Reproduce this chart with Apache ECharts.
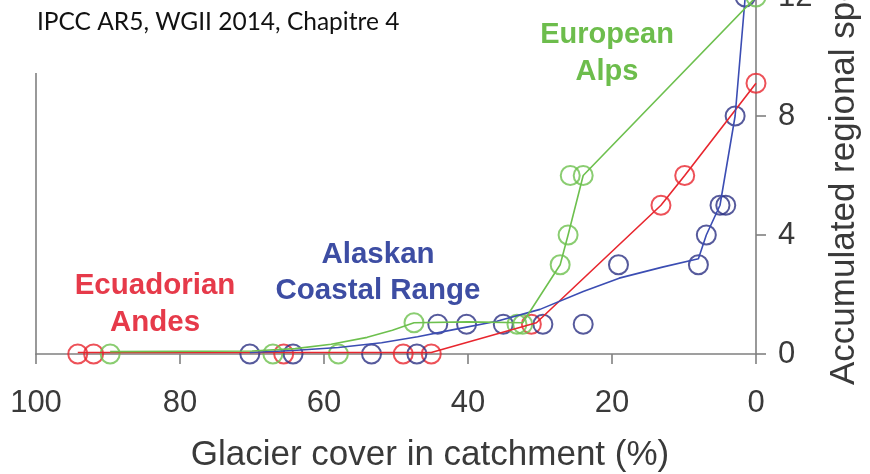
<!DOCTYPE html>
<html>
<head>
<meta charset="utf-8">
<script src="https://cdn.jsdelivr.net/npm/echarts@6/dist/echarts.min.js"></script>
<style>
  html, body { margin: 0; padding: 0; background: #ffffff; }
  #chart { width: 870px; height: 474px; }
</style>
</head>
<body>
<div id="chart"></div>
<script>
// Axis ranges (glacier cover runs from 100 % down to 0 %)
const glacierCoverTicks = [100, 80, 60, 40, 20, 0];
const speciesTicks = [0, 4, 8, 12];

// Observed sites: [glacier cover (%), accumulated regional species loss]
const andesSites = [
  [94.2, 0], [92.0, 0], [65.6, 0], [49.0, 0], [45.1, 0],
  [31.2, 1.0], [13.2, 5.0], [9.9, 6.0], [0, 9.1]
];
const alaskaSites = [
  [70.3, 0], [64.3, 0], [53.4, 0], [47.1, 0],
  [44.2, 1.0], [40.2, 1.0], [35.1, 1.0], [29.6, 1.0], [24.0, 1.0],
  [19.1, 3.0], [8.0, 3.0], [6.9, 4.0], [5.0, 5.0], [4.2, 5.0],
  [2.9, 8.0], [1.5, 12.0]
];
const alpsSites = [
  [89.7, 0], [67.1, 0], [58.0, 0], [47.5, 1.05], [33.2, 1.0], [32.4, 1.0],
  [27.2, 3.0], [26.1, 4.0], [25.8, 6.0], [24.0, 6.0], [0, 12.0]
];

// Fitted curves through each region's sites
const andesFit = [
  [94.2, 0.05], [45.1, 0.05], [30.5, 1.05], [13.2, 5.0], [9.9, 6.0], [0, 9.1]
];
const alaskaFit = [
  [70.3, 0.05], [64.3, 0.12], [58, 0.22], [52, 0.38], [47, 0.58], [42, 0.82],
  [36, 1.1], [30, 1.5], [24, 2.1], [19, 2.55], [13, 2.92], [8, 3.2],
  [6.9, 4.0], [5.0, 5.0], [2.9, 8.0], [1.5, 12.0]
];
const alpsFit = [
  [89.7, 0.08], [70, 0.1], [64, 0.18], [59, 0.33], [54, 0.56], [50.5, 0.8],
  [47.5, 1.05], [40, 1.08], [32.4, 1.05], [27.2, 3.0], [26.1, 4.0], [24.0, 6.0], [0, 12.0]
];

const RED = '#e8262e', NAVY = '#2c3183', BLUE = '#3b4db3', GREEN = '#6dc04e';
const AXIS_GREY = '#808080', TEXT = '#3a3a3a';
const FONT = '"Liberation Sans", Arial, sans-serif';

function sites(name, data, color) {
  return {
    name, type: 'scatter', data, clip: false,
    symbol: 'circle', symbolSize: 19,
    itemStyle: { color: 'rgba(0,0,0,0)', borderColor: color, borderWidth: 2 },
    z: 2
  };
}
function fit(name, data, color) {
  return {
    name, type: 'line', data, clip: false,
    showSymbol: false, symbol: 'none',
    lineStyle: { color, width: 1.6 },
    z: 3
  };
}

const chart = echarts.init(document.getElementById('chart'), null, { renderer: 'canvas' });
chart.setOption({
  animation: false,
  backgroundColor: '#ffffff',
  textStyle: { fontFamily: FONT },
  grid: { left: 36, right: 114, top: -3, bottom: 120, containLabel: false, outerBoundsMode: 'none' },
  xAxis: {
    type: 'value', inverse: true,
    min: glacierCoverTicks[glacierCoverTicks.length - 1],
    max: glacierCoverTicks[0],
    interval: glacierCoverTicks[0] - glacierCoverTicks[1],
    axisLine: { onZero: false, lineStyle: { color: AXIS_GREY, width: 1.6 } },
    axisTick: { show: true, length: 10, lineStyle: { color: AXIS_GREY, width: 1.6 } },
    axisLabel: { fontSize: 31, color: TEXT, margin: 34, fontFamily: FONT },
    splitLine: { show: false },
    name: 'Glacier cover in catchment (%)',
    nameLocation: 'middle', nameGap: 84,
    nameTextStyle: { fontSize: 35, color: TEXT, fontFamily: FONT, padding: [0, 0, 0, 68] }
  },
  yAxis: [{
    type: 'value', position: 'right',
    min: speciesTicks[0], max: speciesTicks[speciesTicks.length - 1],
    interval: speciesTicks[1] - speciesTicks[0],
    axisLine: { show: true, lineStyle: { color: AXIS_GREY, width: 1.6 } },
    axisTick: { show: true, length: 10, lineStyle: { color: AXIS_GREY, width: 1.6 } },
    axisLabel: { fontSize: 31, color: TEXT, margin: 22, fontFamily: FONT },
    splitLine: { show: false },
    name: 'Accumulated regional species loss',
    nameLocation: 'middle', nameGap: 71, nameRotate: 90,
    nameTextStyle: { fontSize: 35, color: TEXT, fontFamily: FONT, padding: [0, 0, 0, 118] }
  }, {
    type: 'value', position: 'left',
    min: speciesTicks[0], max: speciesTicks[speciesTicks.length - 1],
    axisLine: { show: true, lineStyle: { color: AXIS_GREY, width: 1.6 } },
    axisTick: { show: false }, axisLabel: { show: false }, splitLine: { show: false }
  }],
  graphic: [
    { type: 'rect', z: 100, shape: { x: 0, y: 0, width: 440, height: 73 }, style: { fill: '#ffffff' } },
    { type: 'text', z: 101, x: 37, y: 22,
      style: { text: 'IPCC AR5, WGII 2014, Chapitre 4', fill: '#111111',
               font: '24.5px Lato, "Open Sans", sans-serif', textAlign: 'left', textVerticalAlign: 'middle' } },
    { type: 'text', z: 101, x: 155, y: 304,
      style: { text: 'Ecuadorian\nAndes', fill: '#e63a4a', font: 'bold 29.5px ' + FONT,
               lineHeight: 37, textAlign: 'center', textVerticalAlign: 'middle' } },
    { type: 'text', z: 101, x: 378, y: 272.5,
      style: { text: 'Alaskan\nCoastal Range', fill: '#3d4da3', font: 'bold 29.5px ' + FONT,
               lineHeight: 36, textAlign: 'center', textVerticalAlign: 'middle' } },
    { type: 'text', z: 101, x: 607, y: 53.5,
      style: { text: 'European\nAlps', fill: '#6dbd4c', font: 'bold 29px ' + FONT,
               lineHeight: 37, textAlign: 'center', textVerticalAlign: 'middle' } }
  ],
  series: [
    sites('Ecuadorian Andes', andesSites, RED),
    sites('Alaskan Coastal Range', alaskaSites, NAVY),
    sites('European Alps', alpsSites, GREEN),
    fit('Ecuadorian Andes fit', andesFit, RED),
    fit('Alaskan Coastal Range fit', alaskaFit, BLUE),
    fit('European Alps fit', alpsFit, GREEN)
  ]
});
</script>
</body>
</html>
